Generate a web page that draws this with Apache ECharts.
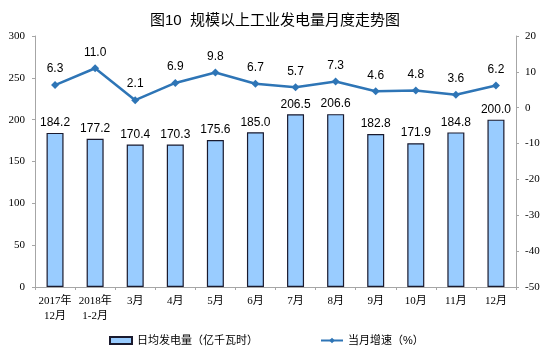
<!DOCTYPE html>
<html><head><meta charset="utf-8">
<script src="https://cdn.jsdelivr.net/npm/echarts@6/dist/echarts.min.js"></script>
<style>html,body{margin:0;padding:0;background:#fff}#c{width:550px;height:356px}</style>
</head><body><div id="c"></div>
<script>
var categories = ['2017年\n12月','2018年\n1-2月','3月','4月','5月','6月','7月','8月','9月','10月','11月','12月'];
var dailyOutput = [184.2,177.2,170.4,170.3,175.6,185.0,206.5,206.6,182.8,171.9,184.8,200.0];
var growth = [6.3,11.0,2.1,6.9,9.8,6.7,5.7,7.3,4.6,4.8,3.6,6.2];
var leftTicks = [0,300,50];
var rightTicks = [-50,20,10];

var serif = '"Liberation Serif","Noto Sans CJK SC",serif';
var sans = '"Liberation Sans","Noto Sans CJK SC",sans-serif';
var axisGray = '#a6a6a6';
var chart = echarts.init(document.getElementById('c'));
chart.setOption({
  animation:false,
  title:{text:'图10  规模以上工业发电量月度走势图',left:'center',top:8,
    textStyle:{fontFamily:sans,fontSize:15,fontWeight:'normal',color:'#000'}},
  grid:{left:35,right:34,top:36,bottom:69,containLabel:false},
  legend:{bottom:5,left:104,itemGap:62,itemWidth:22,itemHeight:7,
    textStyle:{fontFamily:sans,fontSize:11,color:'#000'},
    data:[{name:'日均发电量（亿千瓦时）',icon:'rect'},{name:'当月增速（%）'}]},
  xAxis:{type:'category',data:categories,
    axisLine:{lineStyle:{color:axisGray}},
    axisTick:{show:true,length:3,lineStyle:{color:axisGray}},
    axisLabel:{fontFamily:serif,fontSize:11,color:'#000',interval:0,lineHeight:15,margin:7}},
  yAxis:[
    {type:'value',min:leftTicks[0],max:leftTicks[1],interval:leftTicks[2],
     splitLine:{show:false},
     axisLine:{show:true,lineStyle:{color:axisGray}},
     axisTick:{show:true,length:3,lineStyle:{color:axisGray}},
     axisLabel:{fontFamily:serif,fontSize:11,color:'#000',margin:10}},
    {type:'value',min:rightTicks[0],max:rightTicks[1],interval:rightTicks[2],
     splitLine:{show:false},
     axisLine:{show:true,lineStyle:{color:axisGray}},
     axisTick:{show:true,length:3,lineStyle:{color:axisGray}},
     axisLabel:{fontFamily:serif,fontSize:11,color:'#000',margin:9}}
  ],
  series:[
    {name:'日均发电量（亿千瓦时）',type:'bar',data:dailyOutput,barWidth:17,
     itemStyle:{color:'#99ccff',borderColor:'#1a1a2e',borderWidth:1.2},
     label:{show:true,position:'top',distance:4,fontFamily:sans,fontSize:12,color:'#000',
       formatter:function(p){return p.value.toFixed(1);}}},
    {name:'当月增速（%）',type:'line',yAxisIndex:1,data:growth,
     symbol:'diamond',symbolSize:8,
     lineStyle:{color:'#2e75b6',width:2.5},
     itemStyle:{color:'#2e75b6'},
     label:{show:true,position:'top',distance:6,fontFamily:sans,fontSize:12,color:'#000',
       formatter:function(p){return p.value.toFixed(1);}}}
  ]
});
</script></body></html>
